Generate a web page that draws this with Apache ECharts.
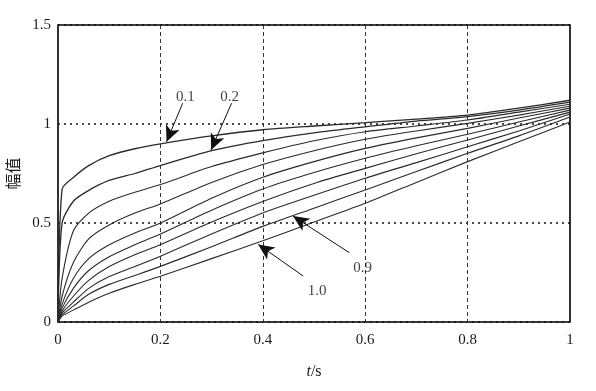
<!DOCTYPE html>
<html>
<head>
<meta charset="utf-8">
<script src="https://cdn.jsdelivr.net/npm/echarts@6/dist/echarts.min.js"></script>
<style>html,body{margin:0;padding:0;background:#fff;}#c{width:596px;height:391px;}</style>
</head>
<body>
<div id="c"></div>
<script>
// time grid (s)
var tValues = [0, 0.008, 0.03, 0.06, 0.1, 0.15, 0.2, 0.3, 0.4, 0.5, 0.6, 0.7, 0.8, 0.9, 1.0];
// curve names
var curveNames = ['0.1','0.2','0.3','0.4','0.5','0.6','0.7','0.8','0.9','1.0'];
// amplitude values per curve
var c01 = [0, 0.67, 0.73, 0.79, 0.84, 0.875, 0.90, 0.94, 0.971, 0.99, 1.007, 1.025, 1.045, 1.08, 1.12];
var c02 = [0, 0.50, 0.61, 0.665, 0.715, 0.75, 0.79, 0.865, 0.916, 0.955, 0.986, 1.015, 1.037, 1.07, 1.11];
var c03 = [0, 0.22, 0.46, 0.55, 0.61, 0.655, 0.694, 0.785, 0.854, 0.915, 0.961, 0.99, 1.02, 1.06, 1.10];
var c04 = [0, 0.13, 0.30, 0.42, 0.49, 0.55, 0.596, 0.705, 0.795, 0.865, 0.923, 0.965, 1.003, 1.045, 1.09];
var c05 = [0, 0.09, 0.22, 0.32, 0.39, 0.45, 0.50, 0.625, 0.731, 0.81, 0.877, 0.93, 0.978, 1.03, 1.08];
var c06 = [0, 0.07, 0.17, 0.26, 0.33, 0.39, 0.444, 0.565, 0.672, 0.755, 0.827, 0.89, 0.948, 1.01, 1.07];
var c07 = [0, 0.055, 0.13, 0.21, 0.28, 0.34, 0.39, 0.505, 0.609, 0.70, 0.776, 0.85, 0.919, 0.99, 1.06];
var c08 = [0, 0.045, 0.10, 0.17, 0.23, 0.28, 0.332, 0.445, 0.551, 0.64, 0.726, 0.805, 0.885, 0.965, 1.05];
var c09 = [0, 0.035, 0.08, 0.14, 0.19, 0.235, 0.281, 0.38, 0.483, 0.575, 0.667, 0.76, 0.852, 0.94, 1.035];
var c10 = [0, 0.03, 0.06, 0.10, 0.145, 0.19, 0.231, 0.32, 0.41, 0.505, 0.60, 0.705, 0.81, 0.91, 1.01];
var curves = [c01, c02, c03, c04, c05, c06, c07, c08, c09, c10];

// annotation labels [x, y, text] and arrows [[x0,y0],[x1,y1]] in data units
var annoLabels = [[0.249, 1.138, '0.1'], [0.335, 1.138, '0.2'], [0.595, 0.271, '0.9'], [0.506, 0.158, '1.0']];
var annoArrows = [
  [[0.2435, 1.105], [0.212, 0.91]],
  [[0.339, 1.105], [0.299, 0.869]],
  [[0.569, 0.35], [0.459, 0.535]],
  [[0.479, 0.232], [0.391, 0.392]]
];

var serif = 'Liberation Serif';
var series = curves.map(function (arr, i) {
  return {
    name: curveNames[i],
    type: 'line',
    data: tValues.map(function (t, k) { return [t, arr[k]]; }),
    showSymbol: false,
    smooth: 0.25,
    lineStyle: { color: '#2a2a2a', width: i < 2 ? 1.3 : 1.1 },
    z: 3
  };
});
series[0].markLine = {
  silent: true,
  symbol: ['none', 'arrow'],
  symbolSize: [11, 16],
  label: { show: false },
  lineStyle: { color: '#111', width: 1, type: 'solid' },
  itemStyle: { color: '#111' },
  data: annoArrows.map(function (a) {
    return [{ coord: a[0] }, { coord: a[1] }];
  })
};
series.push({
  type: 'scatter',
  data: annoLabels,
  symbolSize: 2,
  itemStyle: { color: 'rgba(0,0,0,0)' },
  label: {
    show: true, position: 'inside',
    formatter: function (p) { return p.value[2]; },
    fontFamily: serif, fontSize: 15, color: '#111'
  },
  z: 5
});

var chart = echarts.init(document.getElementById('c'));
chart.setOption({
  animation: false,
  backgroundColor: '#fff',
  grid: { left: 58, right: 26, top: 25, bottom: 69, containLabel: false, outerBoundsMode: 'none',
    show: true, borderColor: '#000', borderWidth: 1.6, backgroundColor: 'transparent' },
  xAxis: {
    type: 'value', min: 0, max: 1, interval: 0.2,
    axisLine: { show: false }, axisTick: { show: false },
    axisLabel: { fontFamily: serif, fontSize: 15, color: '#1a1a1a', margin: 11,
      formatter: function (v) { return v === 0 ? '0' : (v === 1 ? '1' : v.toFixed(1)); } },
    splitLine: { show: true, lineStyle: { color: '#333', type: [4, 3], width: 1 } },
    name: '{i|t}/s', nameLocation: 'middle', nameGap: 42,
    nameTextStyle: { fontFamily: serif, fontSize: 16, color: '#1a1a1a',
      rich: { i: { fontStyle: 'italic', fontFamily: serif, fontSize: 16, color: '#1a1a1a' } } }
  },
  yAxis: {
    type: 'value', min: 0, max: 1.5, interval: 0.5,
    axisLine: { show: false }, axisTick: { show: false },
    axisLabel: { fontFamily: serif, fontSize: 15, color: '#1a1a1a', margin: 7 },
    splitLine: { show: true, lineStyle: { color: '#111', type: [2, 4], width: 1.6 } },
    name: '幅值', nameLocation: 'middle', nameGap: 30,
    nameTextStyle: { fontFamily: 'Noto Sans CJK SC', fontSize: 16, color: '#1a1a1a' }
  },
  series: series
});
</script>
</body>
</html>
